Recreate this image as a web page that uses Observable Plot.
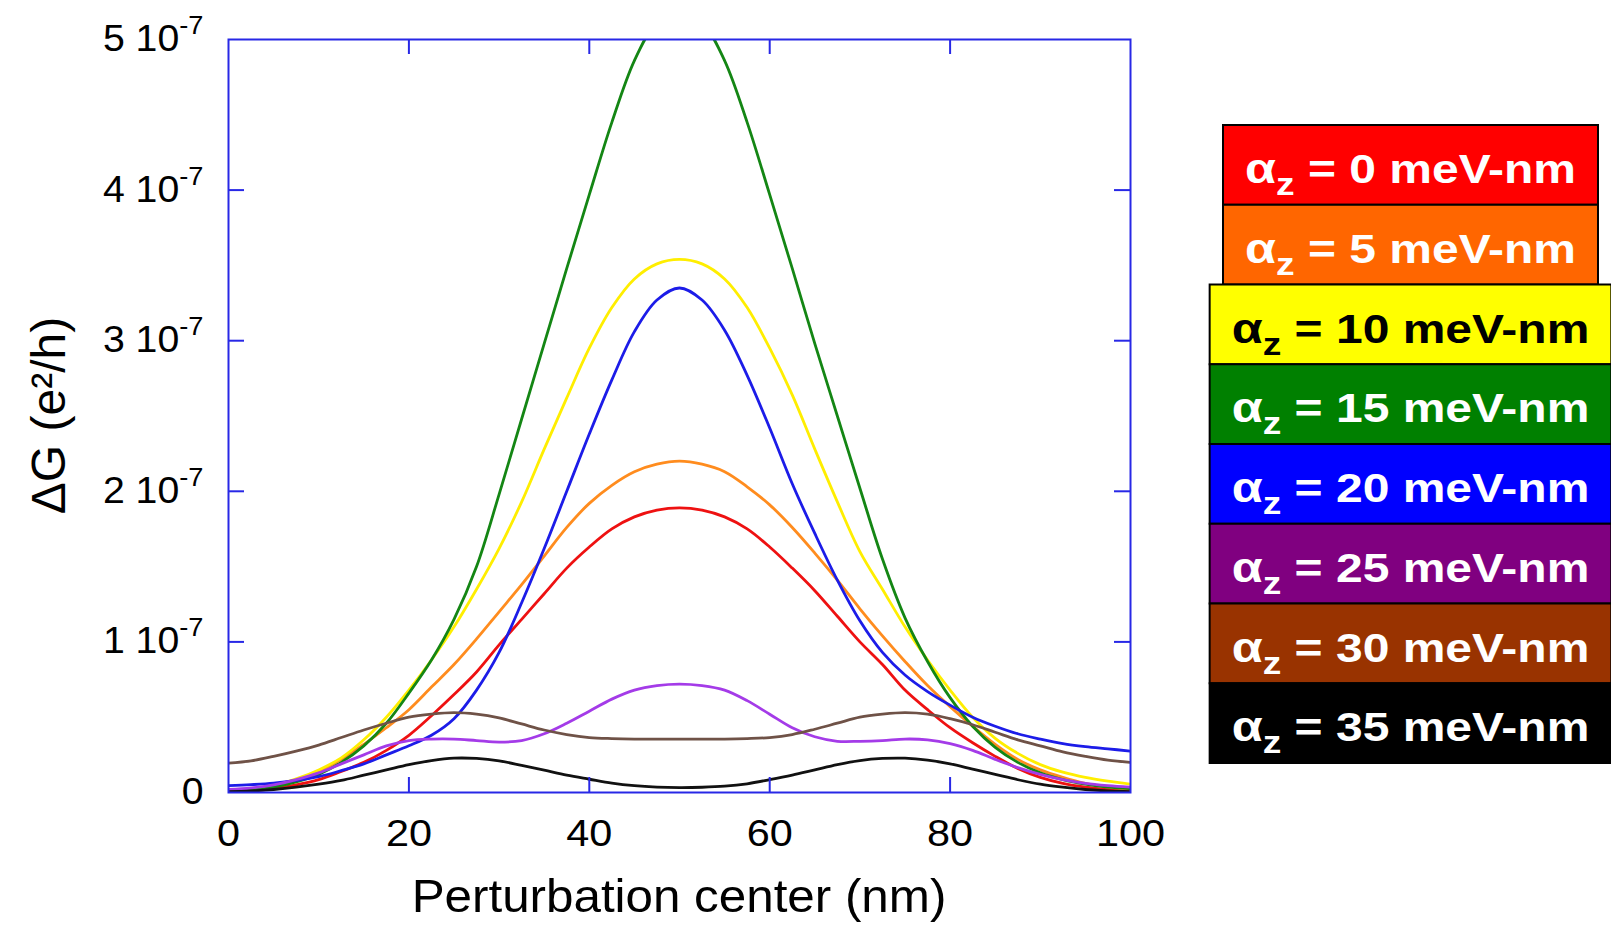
<!DOCTYPE html>
<html>
<head>
<meta charset="utf-8">
<script src="https://cdn.jsdelivr.net/npm/d3@7"></script>
<script src="https://cdn.jsdelivr.net/npm/@observablehq/plot@0.6"></script>
<style>
  html, body { margin: 0; padding: 0; background: #fff; }
  #chart { width: 1611px; height: 925px; overflow: hidden; }
</style>
</head>
<body>
<div id="chart"></div>
<script>
// Perturbation centre positions along the wire (nm)
const centerNm = [0, 2.5, 5, 7.5, 10, 12.5, 15, 17.5, 20, 22.5, 25, 27.5, 30, 32.5, 35, 37.5, 40, 42.5, 45, 47.5, 50,
  52.5, 55, 57.5, 60, 62.5, 65, 67.5, 70, 72.5, 75, 77.5, 80, 82.5, 85, 87.5, 90, 92.5, 95, 97.5, 100];

// Conductance change ΔG, in units of 1e-7 e²/h, one array per Rashba coefficient αz
const dG_az0 = [0.005, 0.01, 0.025, 0.05, 0.085, 0.14, 0.2, 0.28, 0.38, 0.51, 0.65, 0.8, 0.98, 1.15, 1.32, 1.49, 1.63, 1.75, 1.83, 1.875, 1.89,
  1.875, 1.83, 1.75, 1.63, 1.49, 1.34, 1.17, 1.0, 0.85, 0.68, 0.55, 0.43, 0.33, 0.24, 0.16, 0.1, 0.06, 0.035, 0.02, 0.012];
const dG_az5 = [0.005, 0.015, 0.04, 0.08, 0.14, 0.22, 0.32, 0.43, 0.55, 0.7, 0.85, 1.02, 1.2, 1.38, 1.57, 1.76, 1.92, 2.04, 2.13, 2.18, 2.2,
  2.18, 2.13, 2.03, 1.91, 1.76, 1.59, 1.41, 1.22, 1.04, 0.87, 0.71, 0.57, 0.44, 0.32, 0.22, 0.15, 0.1, 0.06, 0.035, 0.02];
const dG_az10 = [0.01, 0.02, 0.045, 0.09, 0.15, 0.23, 0.35, 0.5, 0.68, 0.88, 1.1, 1.35, 1.62, 1.93, 2.28, 2.62, 2.95, 3.22, 3.41, 3.51, 3.54,
  3.51, 3.41, 3.22, 2.95, 2.64, 2.28, 1.93, 1.6, 1.35, 1.1, 0.88, 0.68, 0.5, 0.36, 0.26, 0.185, 0.135, 0.1, 0.075, 0.055];
const dG_az15 = [0.005, 0.015, 0.035, 0.07, 0.12, 0.2, 0.31, 0.46, 0.66, 0.88, 1.15, 1.5, 1.98, 2.48, 2.98, 3.48, 3.97, 4.45, 4.86, 5.12, 5.22,
  5.12, 4.86, 4.45, 3.97, 3.48, 2.98, 2.5, 2.02, 1.55, 1.16, 0.87, 0.63, 0.44, 0.3, 0.2, 0.13, 0.085, 0.055, 0.035, 0.025];
const dG_az20 = [0.045, 0.052, 0.062, 0.08, 0.105, 0.145, 0.19, 0.25, 0.31, 0.38, 0.49, 0.68, 0.93, 1.26, 1.62, 2.0, 2.38, 2.74, 3.06, 3.27, 3.35,
  3.27, 3.07, 2.77, 2.42, 2.05, 1.72, 1.41, 1.14, 0.93, 0.78, 0.67, 0.58, 0.5, 0.44, 0.39, 0.355, 0.325, 0.305, 0.29, 0.275];
const dG_az25 = [0.02, 0.03, 0.05, 0.085, 0.13, 0.19, 0.25, 0.31, 0.345, 0.355, 0.355, 0.345, 0.335, 0.345, 0.39, 0.46, 0.54, 0.62, 0.68, 0.71, 0.72,
  0.71, 0.68, 0.61, 0.52, 0.43, 0.37, 0.34, 0.34, 0.345, 0.355, 0.35, 0.325, 0.28, 0.22, 0.165, 0.12, 0.085, 0.06, 0.045, 0.035];
const dG_az30 = [0.195, 0.21, 0.24, 0.275, 0.315, 0.365, 0.415, 0.46, 0.5, 0.52, 0.53, 0.52, 0.495, 0.455, 0.415, 0.385, 0.365, 0.358, 0.355, 0.355, 0.355,
  0.355, 0.355, 0.358, 0.365, 0.385, 0.42, 0.46, 0.5, 0.52, 0.53, 0.52, 0.49, 0.45, 0.4, 0.35, 0.31, 0.27, 0.24, 0.215, 0.2];
const dG_az35 = [0.005, 0.01, 0.02, 0.035, 0.055, 0.08, 0.115, 0.15, 0.185, 0.212, 0.228, 0.226, 0.21, 0.18, 0.148, 0.115, 0.088, 0.062, 0.045, 0.036, 0.033,
  0.035, 0.042, 0.058, 0.085, 0.115, 0.15, 0.185, 0.212, 0.226, 0.228, 0.215, 0.19, 0.155, 0.12, 0.085, 0.055, 0.035, 0.02, 0.01, 0.005];

// Rashba coefficient of each series (meV-nm)
const alphaZ = [0, 5, 10, 15, 20, 25, 30, 35];

// Axis ticks and titles
const xTicks = [0, 20, 40, 60, 80, 100];
const yTicks = [0, 1, 2, 3, 4, 5];
const yExponent = "-7";
const xTitle = "Perturbation center (nm)";
const yTitle = "ΔG (e²/h)";

// Styles
const lineColors = ["#ee1111", "#ff8c1e", "#ffee00", "#148614", "#1c1ce8", "#a43be8", "#6f5247", "#111111"];
const boxColors = ["#ff0000", "#ff6600", "#ffff00", "#008000", "#0000ff", "#800080", "#993300", "#000000"];
const boxTextColors = ["#fff", "#fff", "#000", "#fff", "#fff", "#fff", "#fff", "#fff"];

const FONT = "'Liberation Sans', Arial, Helvetica, sans-serif";
const AXIS_BLUE = "#2828e6";
const W = 1611, H = 925;
const M = {left: 228, right: 481, top: 39, bottom: 133};
const innerW = W - M.left - M.right;
const innerH = H - M.top - M.bottom;
const TICK = 16;

const seriesValues = [dG_az0, dG_az5, dG_az10, dG_az15, dG_az20, dG_az25, dG_az30, dG_az35];
const innerTicks = (arr) => arr.slice(1, -1);

const lineMarks = seriesValues.map((vals, i) =>
  Plot.line(centerNm.map((x, j) => ({x, y: vals[j]})), {
    x: "x", y: "y", stroke: lineColors[i], strokeWidth: 2.8, curve: "catmull-rom", clip: true
  })
);

const svg = Plot.plot({
  width: W, height: H,
  marginLeft: M.left, marginRight: M.right, marginTop: M.top, marginBottom: M.bottom,
  style: {fontFamily: FONT, fontSize: "36px", color: "#000", background: "#fff", overflow: "visible"},
  x: {domain: [0, 100]},
  y: {domain: [0, 5]},
  marks: [
    ...lineMarks,
    Plot.tickY(innerTicks(yTicks), {y: d => d, stroke: AXIS_BLUE, strokeWidth: 2, insetRight: innerW - TICK}),
    Plot.tickY(innerTicks(yTicks), {y: d => d, stroke: AXIS_BLUE, strokeWidth: 2, insetLeft: innerW - TICK}),
    Plot.tickX(innerTicks(xTicks), {x: d => d, stroke: AXIS_BLUE, strokeWidth: 2, insetTop: innerH - TICK + 1}),
    Plot.tickX(innerTicks(xTicks), {x: d => d, stroke: AXIS_BLUE, strokeWidth: 2, insetBottom: innerH - TICK + 1}),
    Plot.frame({stroke: AXIS_BLUE, strokeWidth: 2}),
    Plot.axisX({ticks: xTicks, tickSize: 0, tickPadding: 28, label: null, tickFormat: d => String(d)}),
    Plot.axisY({ticks: yTicks, tickSize: 0, tickPadding: 25, label: null,
      tickFormat: d => d === 0 ? "0" : `${d} 10|${yExponent}`})
  ]
});

document.getElementById("chart").appendChild(svg);

// Widen a text element horizontally, keeping its anchor in place
function widen(el, s) {
  const len = el.getComputedTextLength();
  el.setAttribute("textLength", (len * s).toFixed(2));
  el.setAttribute("lengthAdjust", "spacingAndGlyphs");
}

const root = d3.select(svg);

// y tick labels: mantissa followed by a raised power of ten
root.selectAll('g[aria-label="y-axis tick label"] text').each(function () {
  const s = this.textContent;
  if (s.includes("|")) {
    const [base, exp] = s.split("|");
    this.textContent = "";
    d3.select(this).append("tspan").text(base);
    d3.select(this).append("tspan").attr("font-size", 25).attr("dy", -17).text(exp);
  }
  widen(this, 1.09);
});
root.selectAll('g[aria-label="x-axis tick label"] text').each(function () { widen(this, 1.15); });

// Axis titles
const xr = svg.scale("x").range, yr = svg.scale("y").range;
const xMid = (xr[0] + xr[1]) / 2, yMid = (yr[0] + yr[1]) / 2;
root.append("text")
  .attr("text-anchor", "middle")
  .attr("font-family", FONT).attr("font-size", 47).attr("fill", "#000")
  .attr("transform", `translate(${xMid},${yr[0] + 120}) scale(1.05,1)`)
  .text(xTitle);
root.append("text")
  .attr("text-anchor", "middle")
  .attr("font-family", FONT).attr("font-size", 48).attr("fill", "#000")
  .attr("transform", `translate(48,${yMid}) rotate(-90)`)
  .attr("dy", "0.35em")
  .text(yTitle);

// Legend: one coloured box per αz, stacked to the right of the plot
const LEG_X = 1410.5, LEG_TOP = 125, LEG_STEP = 79.75, LEG_PAD = 22, LEG_SCALE = 1.2;
const legend = root.append("g").attr("font-family", FONT).attr("font-weight", "bold");
alphaZ.forEach((a, i) => {
  const g = legend.append("g");
  const top = LEG_TOP + i * LEG_STEP;
  const rect = g.append("rect")
    .attr("y", top).attr("height", LEG_STEP)
    .attr("fill", boxColors[i]).attr("stroke", "#000").attr("stroke-width", 2);
  const text = g.append("text")
    .attr("text-anchor", "middle")
    .attr("fill", boxTextColors[i])
    .attr("font-size", 40)
    .attr("transform", `translate(${LEG_X},${top + 58}) scale(${LEG_SCALE},1)`);
  text.append("tspan").attr("font-size", 42).text("α");
  text.append("tspan").attr("font-size", 31).attr("dy", 12).text("z");
  text.append("tspan").attr("dy", -12).text(` = ${a} meV-nm`);
  const w = text.node().getBBox().width * LEG_SCALE + 2 * LEG_PAD;
  rect.attr("x", LEG_X - w / 2).attr("width", w);
});
</script>
</body>
</html>
